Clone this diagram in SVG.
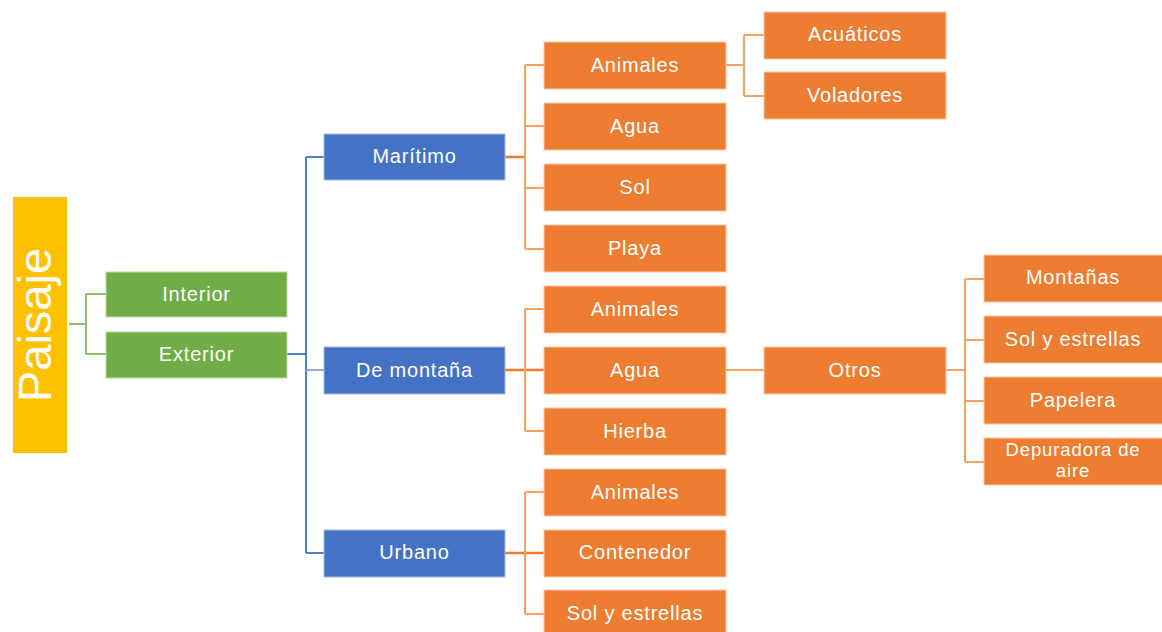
<svg xmlns="http://www.w3.org/2000/svg" width="1162" height="632" viewBox="0 0 1162 632">
<style>
text{font-family:"Liberation Sans",Arial,sans-serif;fill:#fff;text-anchor:middle;font-size:20px;letter-spacing:0.8px}
.o{fill:#ED7D31;stroke:#F7C9A8;stroke-width:1}
.b{fill:#4472C4;stroke:#A9BCE4;stroke-width:1}
.g{fill:#70AD47;stroke:#BCDBA8;stroke-width:1}
.y{fill:#FFC000}
.co{fill:none;stroke:#F4A266;stroke-width:2}
.cos{fill:none;stroke:#ED7D31;stroke-width:2.5}
.cb{fill:none;stroke:#4F7ECB;stroke-width:2}
.cbl{fill:none;stroke:#8FAADC;stroke-width:2}
.cg{fill:none;stroke:#8DC06A;stroke-width:2}
.sm{font-size:18.5px;letter-spacing:0.9px}
</style>
<rect width="1162" height="632" fill="#fff"/>
<g id="connectors">
<path class="cg" d="M69 324H86M86 294V354M86 294H106M86 354H106"/>
<path class="cb" d="M287 354H306" stroke-width="3"/>
<path class="cb" d="M306 157V553M306 157H324M306 553H324"/>
<path class="cbl" d="M306 370H324"/>
<path class="cos" d="M505 157H525M505 370H544M505 553H544"/>
<path class="co" d="M525 65V249M525 65H544M525 126H544M525 188H544M525 249H544"/>
<path class="co" d="M525 309V431M525 309H544M525 431H544"/>
<path class="co" d="M525 492V614M525 492H544M525 614H544"/>
<path class="co" d="M726 65H744M744 35V96M744 35H764M744 96H764"/>
<path class="co" d="M726 370H764"/>
<path class="co" d="M946 370H965M965 279V462M965 279H984M965 340H984M965 401H984M965 462H984"/>
</g>
<g id="paisaje"><rect class="y" x="13" y="197" width="54" height="256"/><text transform="translate(51,325) rotate(-90)" style="font-size:47px;letter-spacing:0">Paisaje</text></g>
<g id="interior"><rect class="g" x="106" y="272" width="181" height="45"/><text x="196.5" y="300.5">Interior</text></g>
<g id="exterior"><rect class="g" x="106" y="332" width="181" height="46"/><text x="196.5" y="361">Exterior</text></g>
<g id="maritimo"><rect class="b" x="324" y="134" width="181" height="46"/><text x="414.5" y="163">Marítimo</text></g>
<g id="montana"><rect class="b" x="324" y="347" width="181" height="47"/><text x="414.5" y="376.5">De montaña</text></g>
<g id="urbano"><rect class="b" x="324" y="530" width="181" height="47"/><text x="414.5" y="559">Urbano</text></g>
<g id="m-animales"><rect class="o" x="544" y="42" width="182" height="47"/><text x="635" y="71.5">Animales</text></g>
<g id="m-agua"><rect class="o" x="544" y="103" width="182" height="47"/><text x="635" y="132.5">Agua</text></g>
<g id="m-sol"><rect class="o" x="544" y="164" width="182" height="47"/><text x="635" y="193.5">Sol</text></g>
<g id="m-playa"><rect class="o" x="544" y="225" width="182" height="47"/><text x="635" y="254.5">Playa</text></g>
<g id="d-animales"><rect class="o" x="544" y="286" width="182" height="47"/><text x="635" y="315.5">Animales</text></g>
<g id="d-agua"><rect class="o" x="544" y="347" width="182" height="47"/><text x="635" y="376.5">Agua</text></g>
<g id="d-hierba"><rect class="o" x="544" y="408" width="182" height="47"/><text x="635" y="437.5">Hierba</text></g>
<g id="u-animales"><rect class="o" x="544" y="469" width="182" height="47"/><text x="635" y="498.5">Animales</text></g>
<g id="u-contenedor"><rect class="o" x="544" y="530" width="182" height="47"/><text x="635" y="559">Contenedor</text></g>
<g id="u-sol"><rect class="o" x="544" y="590" width="182" height="47"/><text x="635" y="619.5">Sol y estrellas</text></g>
<g id="acuaticos"><rect class="o" x="764" y="12" width="182" height="47"/><text x="855" y="41">Acuáticos</text></g>
<g id="voladores"><rect class="o" x="764" y="72" width="182" height="47"/><text x="855" y="102">Voladores</text></g>
<g id="otros"><rect class="o" x="764" y="347" width="182" height="47"/><text x="855" y="376.5">Otros</text></g>
<g id="montanas"><rect class="o" x="984" y="255" width="180" height="47"/><text x="1073" y="284">Montañas</text></g>
<g id="o-sol"><rect class="o" x="984" y="316" width="180" height="47"/><text x="1073" y="345.5">Sol y estrellas</text></g>
<g id="papelera"><rect class="o" x="984" y="377" width="180" height="47"/><text x="1073" y="406.5">Papelera</text></g>
<g id="depuradora"><rect class="o" x="984" y="438" width="180" height="47"/><text class="sm" x="1073" y="456">Depuradora de</text><text class="sm" x="1073" y="477">aire</text></g>
</svg>
